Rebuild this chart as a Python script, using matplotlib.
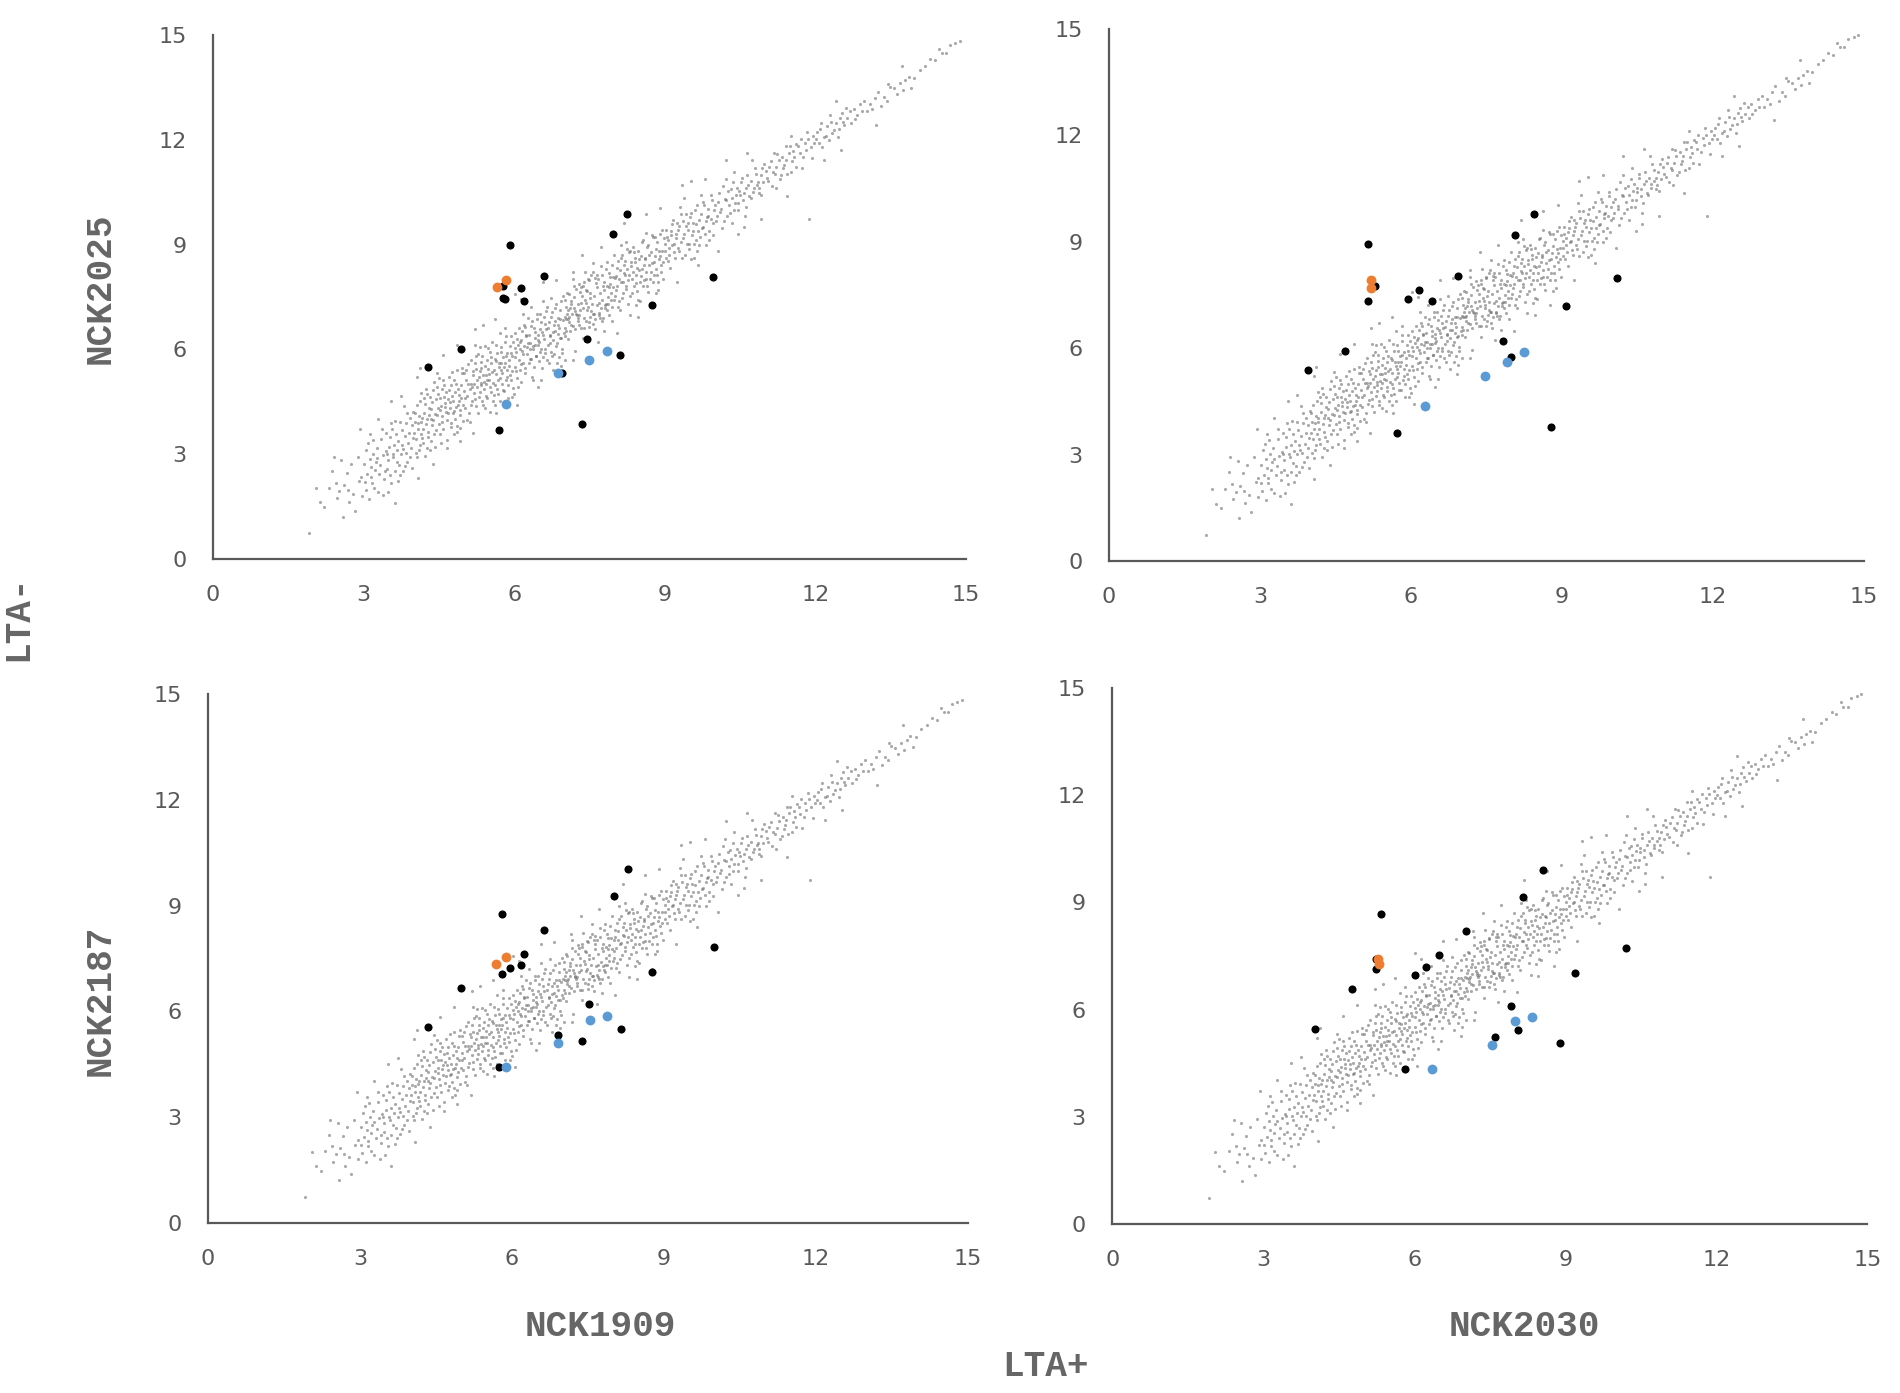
import matplotlib
matplotlib.use("Agg")
import matplotlib.pyplot as plt

# background genes (shared shape in all four panels)
cloud_pts = [
    (1.92, 0.74), (2.05, 2.02), (2.31, 2.03), (2.22, 1.48), (2.45, 2.18), (2.58, 1.21), (2.66, 2.47), (2.79, 1.86),
    (2.88, 2.93), (2.71, 1.63), (2.95, 2.35), (2.52, 1.95),
    (3.02, 2.21), (3.05, 3.12), (3.11, 1.73), (3.14, 2.63), (3.18, 3.41), (3.21, 2.04), (3.27, 2.88), (3.31, 2.42),
    (3.36, 3.71), (3.39, 1.82), (3.44, 3.08), (3.47, 2.57), (3.52, 3.49), (3.55, 2.18), (3.58, 3.02), (3.63, 3.96),
    (3.66, 2.77), (3.69, 3.38), (3.72, 2.41), (3.76, 3.69), (3.79, 3.14), (3.83, 2.66), (3.86, 4.18), (3.89, 3.31),
    (3.93, 2.93), (3.96, 3.84), (3.42, 2.51), (3.24, 2.79), (3.61, 3.27), (3.81, 4.37), (3.13, 3.58), (3.49, 1.93),
    (3.74, 3.01), (3.98, 3.47),
    (4.01, 3.62), (4.04, 3.03), (4.06, 4.41), (4.09, 3.88), (4.12, 3.27), (4.15, 4.76), (4.18, 3.71), (4.21, 4.19),
    (4.23, 2.94), (4.27, 4.02), (4.29, 3.49), (4.32, 4.63), (4.35, 4.28), (4.37, 3.83), (4.41, 5.08), (4.43, 3.21),
    (4.46, 4.12), (4.49, 4.71), (4.52, 3.58), (4.54, 4.39), (4.57, 3.91), (4.61, 4.98), (4.63, 4.47), (4.66, 3.42),
    (4.69, 4.18), (4.71, 4.83), (4.74, 3.77), (4.77, 5.36), (4.79, 4.52), (4.82, 4.01), (4.85, 5.02), (4.87, 3.63),
    (4.91, 4.69), (4.93, 4.27), (4.96, 5.31), (4.98, 3.94), (4.11, 4.09), (4.33, 3.12), (4.51, 5.18), (4.24, 4.88),
    (4.64, 4.21), (4.83, 4.78), (4.03, 3.91), (4.44, 4.57), (4.72, 4.49), (4.94, 4.98), (4.31, 4.33), (4.55, 3.31),
    (4.88, 4.41), (4.17, 3.45),
    (5.02, 4.61), (5.04, 5.13), (5.07, 3.99), (5.09, 5.58), (5.12, 4.87), (5.14, 4.42), (5.17, 5.37), (5.19, 5.01),
    (5.22, 4.58), (5.24, 5.81), (5.27, 4.19), (5.29, 5.22), (5.32, 4.79), (5.34, 5.63), (5.37, 4.41), (5.39, 5.08),
    (5.42, 5.52), (5.44, 4.68), (5.47, 6.03), (5.49, 5.29), (5.52, 4.91), (5.54, 5.79), (5.57, 4.52), (5.59, 5.41),
    (5.62, 4.98), (5.64, 6.12), (5.67, 4.71), (5.69, 5.62), (5.72, 5.18), (5.74, 5.93), (5.77, 4.83), (5.79, 5.49),
    (5.82, 6.21), (5.84, 5.11), (5.87, 4.62), (5.89, 5.71), (5.92, 5.28), (5.94, 6.38), (5.97, 4.89), (5.01, 5.31),
    (5.13, 5.02), (5.23, 5.43), (5.33, 5.04), (5.43, 5.27), (5.53, 5.62), (5.63, 5.68), (5.73, 5.41), (5.83, 5.82),
    (5.93, 5.91), (5.31, 6.08), (5.51, 4.22), (5.71, 6.47), (5.11, 3.92), (5.96, 4.63), (5.46, 5.12), (5.86, 5.42),
    (6.01, 5.78), (6.03, 5.38), (6.06, 6.31), (6.08, 4.92), (6.11, 6.02), (6.13, 5.59), (6.16, 6.52), (6.18, 5.87),
    (6.21, 5.31), (6.23, 6.41), (6.26, 6.08), (6.28, 6.17), (6.31, 5.72), (6.33, 6.68), (6.36, 5.22), (6.38, 6.11),
    (6.41, 6.49), (6.43, 5.81), (6.46, 7.02), (6.48, 6.28), (6.51, 5.93), (6.53, 6.79), (6.56, 5.48), (6.58, 6.42),
    (6.61, 6.01), (6.63, 7.09), (6.66, 5.71), (6.68, 6.61), (6.71, 6.19), (6.73, 6.92), (6.76, 5.82), (6.78, 6.51),
    (6.81, 7.18), (6.83, 6.09), (6.86, 5.62), (6.88, 6.71), (6.91, 6.32), (6.93, 7.38), (6.96, 5.91), (6.02, 6.04),
    (6.12, 6.22), (6.22, 6.63), (6.32, 6.01), (6.42, 6.33), (6.52, 6.58), (6.62, 6.72), (6.72, 6.38), (6.82, 6.81),
    (6.92, 6.88), (6.34, 7.21), (6.54, 5.12), (6.74, 7.48), (6.14, 5.08), (6.94, 5.52), (6.47, 6.14), (6.87, 6.44),
    (7.02, 6.61), (7.31, 7.63), (7.58, 6.72), (7.91, 7.88), (7.19, 7.81), (7.52, 6.93), (7.79, 7.92), (7.08, 6.87),
    (7.41, 8.22), (7.68, 7.03), (7.03, 7.21), (7.29, 6.98), (7.62, 8.04), (7.94, 6.82), (7.22, 7.09), (7.48, 8.01),
    (7.83, 7.31), (7.12, 7.18), (7.39, 6.62), (7.73, 8.38), (7.04, 6.52), (7.34, 7.32), (7.61, 6.58), (7.88, 8.19),
    (7.24, 7.02), (7.54, 8.12), (7.81, 7.18), (7.14, 7.29), (7.44, 7.34), (7.71, 6.91), (7.06, 7.62), (7.27, 6.91),
    (7.64, 8.13), (7.92, 7.42), (7.17, 8.21), (7.49, 6.63), (7.77, 7.81), (7.09, 6.78), (7.43, 7.71), (7.69, 7.32),
    (7.01, 6.92), (7.33, 7.79), (7.57, 7.02), (7.96, 8.07), (7.21, 5.94), (7.51, 7.48), (7.84, 8.49), (7.13, 6.71),
    (7.38, 7.82), (7.74, 6.82), (7.07, 7.12), (7.28, 6.81), (7.63, 7.91), (7.89, 7.78), (7.46, 7.14), (7.86, 7.51),
    (8.02, 7.71), (8.04, 8.32), (8.06, 7.22), (8.09, 8.02), (8.12, 8.61), (8.14, 7.48), (8.16, 7.93), (8.19, 8.41),
    (8.22, 7.82), (8.24, 8.88), (8.27, 7.31), (8.29, 8.12), (8.32, 8.49), (8.34, 7.62), (8.37, 8.21), (8.39, 8.79),
    (8.42, 7.91), (8.44, 8.33), (8.47, 7.42), (8.49, 8.58), (8.52, 8.11), (8.54, 9.08), (8.57, 7.81), (8.59, 8.42),
    (8.62, 8.01), (8.64, 8.92), (8.67, 7.63), (8.69, 8.71), (8.72, 8.22), (8.74, 9.28), (8.77, 7.92), (8.79, 8.51),
    (8.82, 8.88), (8.84, 8.13), (8.87, 7.71), (8.89, 8.81), (8.92, 8.42), (8.94, 9.41), (8.97, 8.02), (8.01, 8.04),
    (8.21, 8.13), (8.41, 8.62), (8.61, 8.58), (8.81, 9.21), (8.11, 7.12), (8.51, 7.38), (8.91, 8.68), (8.31, 8.82),
    (9.02, 8.61), (9.04, 9.22), (9.08, 8.91), (9.11, 8.32), (9.14, 9.58), (9.18, 9.02), (9.21, 8.62), (9.26, 9.41),
    (9.29, 8.81), (9.33, 9.88), (9.37, 9.19), (9.41, 8.71), (9.46, 9.62), (9.49, 9.01), (9.52, 8.58), (9.57, 9.39),
    (9.61, 9.98), (9.63, 9.12), (9.68, 9.71), (9.71, 9.22), (9.76, 9.49), (9.79, 10.12), (9.82, 8.98), (9.86, 9.81),
    (9.89, 9.38), (9.94, 10.28), (9.01, 9.01), (9.23, 9.29), (9.43, 9.52), (9.64, 8.81), (9.84, 9.79), (9.31, 10.08),
    (9.72, 10.41), (9.12, 9.28), (9.53, 9.91), (9.97, 9.62),
    (10.02, 9.68), (10.06, 10.21), (10.11, 9.92), (10.14, 9.48), (10.19, 10.31), (10.23, 9.82), (10.28, 10.12),
    (10.31, 10.58), (10.37, 9.98), (10.41, 10.43), (10.46, 10.19), (10.52, 10.79), (10.57, 10.48), (10.61, 10.08),
    (10.66, 10.71), (10.71, 10.32), (10.77, 10.62), (10.82, 11.01), (10.86, 10.79), (10.92, 10.42), (10.21, 10.88),
    (10.59, 9.81), (10.38, 11.09), (10.94, 11.18), (10.48, 10.52), (10.88, 10.61),
    (11.03, 10.91), (11.08, 11.22), (11.13, 10.68), (11.19, 11.02), (11.27, 11.41), (11.32, 10.98), (11.38, 11.29),
    (11.47, 11.62), (11.52, 11.08), (11.58, 11.51), (11.62, 11.88), (11.69, 11.61), (11.73, 11.19), (11.79, 11.92),
    (11.84, 12.21), (11.91, 11.79), (11.96, 12.12), (11.42, 11.81), (11.21, 10.61), (11.88, 9.72),
    (12.02, 12.01), (12.09, 12.31), (12.14, 11.79), (12.21, 12.12), (12.31, 12.52), (12.38, 12.28), (12.49, 12.62),
    (12.58, 12.41), (12.69, 12.81), (12.78, 12.59), (12.89, 13.02), (12.27, 11.98), (12.62, 12.92), (12.45, 12.08),
    (13.02, 12.81), (13.18, 13.21), (13.31, 12.98), (13.48, 13.52), (13.62, 13.31), (13.79, 13.71), (13.91, 13.49),
    (13.42, 13.12),
    (14.08, 14.01), (14.29, 14.32), (14.47, 14.61), (14.61, 14.48), (14.79, 14.78),
]

# more background genes, same estimate, filling the dense part of the band
cloud_pts_b = [
    (2.13, 1.62), (2.38, 2.51), (2.47, 1.74), (2.61, 2.12), (2.74, 2.71), (2.83, 1.38), (2.91, 2.22), (2.56, 2.83),
    (2.96, 1.81), (2.68, 1.97),
    (3.01, 2.71), (3.04, 1.98), (3.07, 2.43), (3.09, 3.31), (3.12, 2.87), (3.16, 2.19), (3.19, 3.02), (3.22, 2.56),
    (3.26, 3.19), (3.28, 1.92), (3.33, 2.68), (3.35, 3.44), (3.38, 2.97), (3.41, 2.28), (3.45, 3.62), (3.48, 2.84),
    (3.51, 3.21), (3.53, 2.41), (3.57, 3.73), (3.59, 2.92), (3.62, 2.51), (3.65, 3.58), (3.67, 3.11), (3.71, 2.69),
    (3.73, 3.91), (3.77, 3.27), (3.78, 2.52), (3.82, 3.52), (3.84, 3.03), (3.87, 2.78), (3.91, 3.62), (3.92, 4.03),
    (3.95, 3.18), (3.97, 2.61), (3.99, 4.22), (3.15, 2.34), (3.46, 3.01), (3.68, 2.23), (3.85, 3.88), (3.54, 3.89),
    (4.02, 4.18), (4.05, 3.44), (4.07, 2.91), (4.08, 3.73), (4.13, 4.52), (4.14, 3.58), (4.16, 4.03), (4.19, 3.31),
    (4.22, 4.44), (4.25, 3.86), (4.26, 4.71), (4.28, 3.64), (4.30, 4.11), (4.34, 3.39), (4.36, 4.49), (4.38, 3.97),
    (4.39, 4.84), (4.42, 4.14), (4.45, 3.68), (4.47, 4.93), (4.48, 4.31), (4.50, 3.87), (4.53, 4.62), (4.56, 4.08),
    (4.58, 5.11), (4.59, 3.72), (4.62, 4.36), (4.65, 4.79), (4.67, 3.98), (4.68, 4.58), (4.70, 5.21), (4.73, 4.33),
    (4.75, 3.89), (4.76, 4.68), (4.78, 4.19), (4.81, 5.12), (4.84, 4.36), (4.86, 3.82), (4.89, 4.88), (4.90, 4.51),
    (4.92, 3.76), (4.95, 4.62), (4.97, 5.48), (4.99, 4.41), (4.10, 3.12), (4.20, 4.62), (4.40, 3.58), (4.60, 4.63),
    (4.80, 4.23), (4.46, 5.32), (4.66, 3.18), (4.86, 5.41), (4.27, 3.18), (4.57, 4.88), (4.74, 4.98), (4.92, 4.13),
    (4.35, 4.02), (4.15, 3.93), (4.53, 4.26), (4.81, 3.58),
    (5.01, 4.82), (5.03, 4.33), (5.05, 5.42), (5.06, 4.68), (5.08, 5.02), (5.10, 4.18), (5.13, 5.71), (5.15, 4.93),
    (5.16, 4.53), (5.18, 5.28), (5.20, 4.76), (5.21, 5.62), (5.23, 4.38), (5.25, 5.12), (5.26, 4.91), (5.28, 5.88),
    (5.30, 4.64), (5.31, 5.38), (5.33, 4.97), (5.35, 5.81), (5.36, 4.51), (5.38, 5.27), (5.40, 4.88), (5.41, 6.11),
    (5.43, 5.02), (5.45, 5.71), (5.46, 4.62), (5.48, 5.44), (5.50, 5.11), (5.51, 5.92), (5.53, 4.78), (5.55, 5.36),
    (5.56, 6.22), (5.58, 5.04), (5.60, 4.69), (5.61, 5.73), (5.63, 5.29), (5.65, 4.88), (5.66, 5.91), (5.68, 5.12),
    (5.70, 5.49), (5.71, 4.52), (5.73, 6.08), (5.75, 5.31), (5.76, 5.02), (5.78, 5.78), (5.80, 4.81), (5.81, 5.62),
    (5.83, 6.38), (5.85, 5.21), (5.86, 5.89), (5.88, 4.98), (5.90, 5.52), (5.91, 6.09), (5.93, 5.13), (5.95, 5.81),
    (5.96, 5.38), (5.98, 6.21), (5.99, 4.73), (5.22, 6.12), (5.42, 4.31), (5.62, 4.41), (5.82, 6.62), (5.34, 5.48),
    (5.74, 5.61),
    (6.01, 5.51), (6.02, 6.48), (6.04, 5.92), (6.05, 5.18), (6.07, 6.14), (6.09, 5.71), (6.10, 6.62), (6.12, 5.41),
    (6.14, 6.28), (6.15, 5.94), (6.17, 5.62), (6.19, 6.71), (6.20, 6.11), (6.22, 5.48), (6.24, 6.38), (6.25, 5.88),
    (6.27, 6.89), (6.29, 5.61), (6.30, 6.42), (6.32, 6.18), (6.34, 5.73), (6.35, 6.81), (6.37, 6.01), (6.39, 5.49),
    (6.40, 6.62), (6.42, 6.12), (6.44, 5.82), (6.45, 6.88), (6.47, 6.41), (6.49, 5.68), (6.50, 6.21), (6.52, 7.02),
    (6.54, 6.01), (6.55, 6.51), (6.57, 5.78), (6.59, 6.92), (6.60, 6.31), (6.62, 5.91), (6.64, 6.58), (6.65, 7.21),
    (6.67, 6.12), (6.69, 5.62), (6.70, 6.78), (6.72, 6.41), (6.74, 5.93), (6.75, 7.08), (6.77, 6.28), (6.79, 6.71),
    (6.80, 5.88), (6.82, 6.52), (6.84, 7.31), (6.85, 6.18), (6.87, 6.89), (6.89, 5.79), (6.90, 6.61), (6.92, 7.12),
    (6.94, 6.33), (6.95, 6.02), (6.97, 6.84), (6.99, 6.48), (6.18, 7.02), (6.38, 5.12), (6.58, 7.38), (6.78, 5.42),
    (6.98, 7.52),
    (7.01, 6.38), (7.02, 7.41), (7.04, 6.88), (7.05, 7.02), (7.07, 6.31), (7.09, 7.58), (7.10, 6.92), (7.12, 6.52),
    (7.14, 7.38), (7.15, 7.01), (7.17, 6.68), (7.19, 7.49), (7.20, 7.18), (7.22, 6.58), (7.24, 7.72), (7.25, 6.98),
    (7.27, 7.31), (7.29, 6.71), (7.30, 7.88), (7.32, 7.12), (7.34, 6.62), (7.35, 7.52), (7.37, 7.18), (7.39, 7.92),
    (7.40, 6.91), (7.42, 7.42), (7.44, 6.81), (7.45, 7.68), (7.47, 7.21), (7.49, 7.98), (7.50, 6.78), (7.52, 7.61),
    (7.54, 7.09), (7.55, 7.31), (7.57, 8.21), (7.59, 7.02), (7.60, 7.52), (7.62, 6.88), (7.64, 7.78), (7.65, 7.28),
    (7.67, 8.02), (7.69, 6.98), (7.70, 7.62), (7.72, 7.18), (7.74, 8.12), (7.75, 7.41), (7.77, 6.91), (7.79, 7.71),
    (7.80, 7.28), (7.82, 8.31), (7.84, 7.12), (7.85, 7.82), (7.87, 7.31), (7.89, 6.99), (7.90, 8.08), (7.92, 7.61),
    (7.94, 8.42), (7.95, 7.22), (7.97, 7.78), (7.99, 7.42), (7.18, 8.02), (7.38, 6.32), (7.58, 8.48), (7.78, 6.52),
    (7.98, 8.71),
    (8.01, 7.52), (8.03, 8.11), (8.05, 7.81), (8.07, 8.52), (8.08, 7.38), (8.10, 8.28), (8.13, 7.92), (8.15, 8.71),
    (8.17, 7.61), (8.18, 8.18), (8.20, 8.52), (8.23, 7.72), (8.25, 8.31), (8.26, 7.98), (8.28, 8.78), (8.30, 7.52),
    (8.33, 8.38), (8.35, 8.02), (8.36, 8.92), (8.38, 7.82), (8.40, 8.51), (8.43, 8.12), (8.45, 7.68), (8.46, 8.82),
    (8.48, 8.28), (8.50, 7.92), (8.53, 8.68), (8.55, 8.31), (8.56, 9.12), (8.58, 7.98), (8.60, 8.62), (8.63, 8.21),
    (8.65, 7.81), (8.66, 8.98), (8.68, 8.41), (8.70, 8.01), (8.73, 8.78), (8.75, 8.48), (8.76, 9.22), (8.78, 8.12),
    (8.80, 8.68), (8.83, 8.31), (8.85, 9.08), (8.86, 7.92), (8.88, 8.58), (8.90, 9.31), (8.93, 8.22), (8.95, 8.82),
    (8.96, 8.51), (8.98, 9.18), (8.22, 9.08), (8.42, 7.28), (8.62, 9.32), (8.82, 7.62), (8.12, 8.98),
    (9.01, 8.82), (9.03, 9.41), (9.06, 8.52), (9.07, 9.12), (9.09, 8.71), (9.13, 9.38), (9.15, 8.98), (9.17, 9.71),
    (9.19, 8.78), (9.22, 9.18), (9.24, 9.61), (9.27, 8.91), (9.28, 9.52), (9.32, 9.08), (9.34, 8.61), (9.36, 9.68),
    (9.39, 9.31), (9.42, 9.88), (9.44, 9.02), (9.47, 9.42), (9.48, 8.88), (9.51, 9.78), (9.54, 9.28), (9.56, 9.61),
    (9.59, 9.02), (9.62, 9.58), (9.65, 10.12), (9.67, 9.38), (9.69, 8.98), (9.73, 9.88), (9.74, 9.48), (9.77, 10.21),
    (9.81, 9.31), (9.83, 9.68), (9.87, 10.02), (9.88, 9.12), (9.92, 9.72), (9.93, 10.41), (9.96, 9.28), (9.98, 9.98),
    (9.38, 10.32), (9.58, 8.62),
    (10.01, 10.12), (10.04, 9.82), (10.08, 10.48), (10.12, 10.01), (10.16, 10.68), (10.18, 9.68), (10.22, 10.28),
    (10.26, 10.52), (10.29, 9.91), (10.33, 10.32), (10.36, 10.78), (10.39, 10.18), (10.43, 10.62), (10.45, 9.98),
    (10.49, 10.41), (10.53, 10.92), (10.56, 10.28), (10.62, 10.62), (10.64, 10.98), (10.68, 10.38), (10.72, 10.81),
    (10.76, 10.51), (10.79, 11.18), (10.83, 10.71), (10.87, 10.48), (10.91, 10.98), (10.96, 10.78), (10.98, 11.32),
    (10.33, 9.61), (10.74, 11.42),
    (11.01, 11.12), (11.06, 10.82), (11.11, 11.38), (11.16, 11.08), (11.22, 11.21), (11.24, 11.58), (11.29, 10.88),
    (11.34, 11.52), (11.36, 11.18), (11.41, 11.42), (11.44, 11.02), (11.49, 11.81), (11.54, 11.38), (11.56, 11.68),
    (11.61, 11.22), (11.66, 11.81), (11.71, 12.02), (11.76, 11.52), (11.81, 11.72), (11.86, 12.02), (11.93, 11.48),
    (11.98, 11.91), (11.52, 12.12), (11.18, 11.62),
    (12.04, 12.22), (12.07, 11.91), (12.12, 12.48), (12.17, 12.08), (12.24, 12.38), (12.29, 12.71), (12.34, 12.18),
    (12.42, 12.48), (12.47, 12.31), (12.53, 12.78), (12.56, 12.52), (12.64, 12.61), (12.71, 12.49), (12.76, 12.88),
    (12.83, 12.72), (12.92, 12.81), (12.97, 13.12),
    (13.08, 13.02), (13.13, 12.88), (13.24, 13.38), (13.37, 13.22), (13.44, 13.61), (13.56, 13.48), (13.68, 13.62),
    (13.74, 13.42), (13.86, 13.81), (13.97, 13.78),
    (14.18, 14.12), (14.38, 14.28), (14.52, 14.48), (14.68, 14.71), (14.88, 14.82),
    (3.55, 4.51), (4.12, 5.48), (6.02, 7.58), (8.31, 6.98), (9.52, 10.82), (10.58, 9.51), (12.18, 11.42),
    (5.21, 6.58), (7.02, 5.71), (2.41, 2.92),
]

# sparse genes on the edges of the band
halo_pts = [
    (2.93, 3.71), (3.28, 4.02), (3.74, 4.68), (4.07, 5.21), (4.58, 5.83), (4.86, 6.12), (5.37, 6.71), (5.62, 6.88),
    (6.14, 7.43), (6.57, 7.92), (6.83, 7.98), (7.36, 8.71), (7.72, 8.92), (8.18, 9.62), (8.63, 9.88), (8.91, 10.05),
    (9.34, 10.71), (9.81, 10.88), (10.22, 11.41), (10.63, 11.62), (3.62, 1.61), (4.08, 2.31), (4.39, 2.71),
    (4.92, 3.38), (5.18, 3.62), (5.64, 4.17), (6.05, 4.42), (6.47, 4.91), (6.92, 5.27), (7.18, 5.71), (7.67, 6.22),
    (8.04, 6.48), (8.46, 6.93), (8.77, 7.21), (9.24, 7.92), (9.66, 8.41), (10.07, 8.82), (10.46, 9.31),
    (10.92, 9.72), (11.43, 10.38), (12.51, 11.71), (13.21, 12.42), (12.41, 13.11), (13.72, 14.12),
]
all_cloud = cloud_pts + cloud_pts_b + halo_pts
cloud_x = [p[0] for p in all_cloud]
cloud_y = [p[1] for p in all_cloud]

# NCK1909 (x) vs NCK2025 (y)
p1_black_x = [8.24, 7.97, 5.92, 6.59, 9.97, 5.78, 6.13, 5.78, 5.82, 6.19, 8.75, 4.95, 7.46, 8.11, 4.29, 6.95, 5.70, 7.36]
p1_black_y = [9.87, 9.29, 8.99, 8.10, 8.07, 7.81, 7.76, 7.46, 7.43, 7.39, 7.26, 6.00, 6.30, 5.83, 5.49, 5.33, 3.69, 3.86]
p1_orange_x = [5.65, 5.84]
p1_orange_y = [7.79, 8.00]
p1_blue_x = [7.84, 7.50, 6.88, 5.84]
p1_blue_y = [5.96, 5.69, 5.33, 4.43]

# NCK2030 (x) vs NCK2025 (y)
p2_black_x = [8.45, 8.07, 5.15, 6.93, 10.09, 5.29, 6.15, 5.94, 6.41, 5.14, 9.08, 7.83, 7.99, 4.68, 3.95, 5.73, 8.78]
p2_black_y = [9.77, 9.19, 8.93, 8.03, 7.99, 7.76, 7.65, 7.39, 7.32, 7.32, 7.19, 6.21, 5.75, 5.91, 5.38, 3.60, 3.77]
p2_orange_x = [5.20, 5.20]
p2_orange_y = [7.92, 7.69]
p2_blue_x = [8.24, 7.91, 7.47, 6.27]
p2_blue_y = [5.88, 5.61, 5.21, 4.37]

# NCK1909 (x) vs NCK2187 (y)
p3_black_x = [8.28, 8.02, 5.81, 6.63, 9.99, 6.23, 5.95, 6.17, 5.81, 8.76, 5.00, 7.51, 4.35, 8.16, 6.90, 7.39, 5.74]
p3_black_y = [10.04, 9.27, 8.76, 8.30, 7.83, 7.63, 7.22, 7.31, 7.05, 7.12, 6.68, 6.21, 5.56, 5.51, 5.33, 5.16, 4.43]
p3_orange_x = [5.69, 5.88]
p3_orange_y = [7.34, 7.55]
p3_blue_x = [7.88, 7.53, 6.90, 5.89]
p3_blue_y = [5.87, 5.77, 5.10, 4.42]

# NCK2030 (x) vs NCK2187 (y)
p4_black_x = [8.56, 8.16, 5.34, 7.03, 10.20, 6.50, 6.23, 6.02, 5.23, 5.23, 9.19, 4.76, 7.92, 4.03, 8.07, 7.60, 8.89, 5.82]
p4_black_y = [9.92, 9.16, 8.67, 8.20, 7.73, 7.53, 7.20, 6.97, 7.43, 7.13, 7.03, 6.57, 6.10, 5.46, 5.44, 5.24, 5.07, 4.34]
p4_orange_x = [5.28, 5.30]
p4_orange_y = [7.43, 7.29]
p4_blue_x = [8.34, 8.00, 7.54, 6.36]
p4_blue_y = [5.80, 5.68, 5.00, 4.34]

ticks = [0, 3, 6, 9, 12, 15]
text_col = '#595959'

fig = plt.figure(figsize=(19, 13.93), dpi=100)

panels = [
    ([0.1121, 0.5987, 0.3963, 0.3762], p1_black_x, p1_black_y, p1_orange_x, p1_orange_y, p1_blue_x, p1_blue_y),
    ([0.5837, 0.5973, 0.3974, 0.3819], p2_black_x, p2_black_y, p2_orange_x, p2_orange_y, p2_blue_x, p2_blue_y),
    ([0.1095, 0.1220, 0.4000, 0.3797], p3_black_x, p3_black_y, p3_orange_x, p3_orange_y, p3_blue_x, p3_blue_y),
    ([0.5854, 0.1213, 0.3974, 0.3848], p4_black_x, p4_black_y, p4_orange_x, p4_orange_y, p4_blue_x, p4_blue_y),
]

for rect, bx, by, ox, oy, ux, uy in panels:
    ax = fig.add_axes(rect)
    ax.scatter(cloud_x, cloud_y, s=5, color='#707070', alpha=0.6, linewidths=0)
    ax.scatter(bx, by, s=34, color='black', linewidths=0, zorder=3)
    ax.scatter(ox, oy, s=50, color='#ED7D31', linewidths=0, zorder=4)
    ax.scatter(ux, uy, s=50, color='#5B9BD5', linewidths=0, zorder=4)
    ax.set_xlim(0, 15)
    ax.set_ylim(0, 15)
    ax.set_xticks(ticks)
    ax.set_yticks(ticks)
    ax.tick_params(length=0, labelsize=16, labelcolor=text_col, pad=19)
    for side in ['top', 'right']:
        ax.spines[side].set_visible(False)
    for side in ['left', 'bottom']:
        ax.spines[side].set_color('#595959')
        ax.spines[side].set_linewidth(1.6)

lab = dict(family='Liberation Mono', fontweight='bold', fontsize=26, color='#666666',
           ha='center', va='center')
fig.text(0.0526, 0.7933, 'NCK2025', rotation=90, **lab)
fig.text(0.0526, 0.2821, 'NCK2187', rotation=90, **lab)
fig.text(0.3158, 0.0474, 'NCK1909', **lab)
fig.text(0.8021, 0.0474, 'NCK2030', **lab)
fig.text(0.5500, 0.0187, 'LTA+', **lab)
fig.text(0.0095, 0.5563, 'LTA-', rotation=90, **lab)

fig.savefig('out.png', dpi=100)
